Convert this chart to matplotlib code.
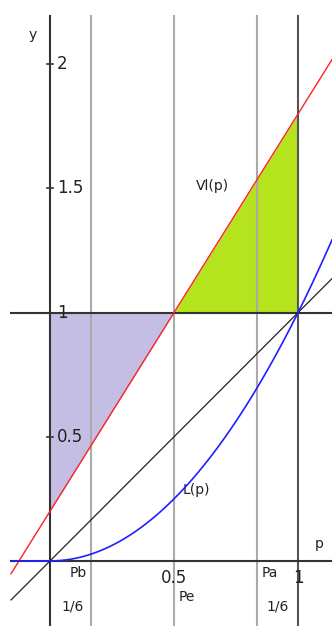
import numpy as np
import matplotlib.pyplot as plt

# Model curves on p
p_left, p_right = -0.157, 1.137
vl_intercept, vl_slope = 0.2, 1.6      # Vl(p) = 0.2 + 1.6 p
l_power = 2                            # L(p) = p^2 for p >= 0, 0 below
p_marks = [1/6, 0.5, 5/6]              # Pb, Pe, Pa
y_ticks = [0.5, 1, 1.5, 2]
y_tick_labels = ['0.5', '1', '1.5', '2']
x_ticks = [0.5, 1]
x_tick_labels = ['0.5', '1']

p = np.linspace(p_left, p_right, 300)
vl = vl_intercept + vl_slope * p
lp = np.clip(p, 0, None) ** l_power

fig = plt.figure(figsize=(3.32, 6.26), dpi=100)
ax = fig.add_axes([0, 0, 1, 1])
ax.set_xlim(-0.2016, 1.137)
ax.set_ylim(-0.262, 2.259)
ax.axis('off')

top = 2.193
ink = '#333333'

# shaded regions between Vl(p) and the line y = 1
pf = np.linspace(0, 0.5, 50)
ax.fill_between(pf, vl_intercept + vl_slope * pf, 1, color='#c5bee4', lw=0, zorder=1)
pf = np.linspace(0.5, 1, 50)
ax.fill_between(pf, 1, vl_intercept + vl_slope * pf, color='#b5e31e', lw=0, zorder=1)

# guide lines at Pb, Pe, Pa
for m in p_marks:
    ax.plot([m, m], [-0.262, top], color='#aaaaaa', lw=1.5, zorder=2)

# axes and the unit lines
ax.plot([0, 0], [-0.262, top], color=ink, lw=1.5, zorder=3)
ax.plot([1, 1], [-0.262, top], color='#555555', lw=1.5, zorder=3)
ax.plot([p_left, p_right], [0, 0], color=ink, lw=1.5, zorder=3)
ax.plot([p_left, p_right], [1, 1], color=ink, lw=1.5, zorder=3)

# curves
mask = vl <= top
ax.plot(p[mask], vl[mask], color='#ff2020', lw=1.0, zorder=4)
ax.plot(p, p, color='#222222', lw=0.9, zorder=4)
ax.plot(p, lp, color='#2020ff', lw=1.2, zorder=4)

# y ticks
for t, lab in zip(y_ticks, y_tick_labels):
    ax.plot([-0.012, 0.012], [t, t], color=ink, lw=1.2, zorder=5)
    ax.text(0.028, t, lab, fontsize=12, color='#222222', ha='left', va='center')
for t, lab in zip(x_ticks, x_tick_labels):
    ax.text(t, -0.07, lab, fontsize=12, color='#222222', ha='center', va='center')

small = dict(fontsize=10, color='#222222', va='center')
ax.text(-0.068, 2.118, 'y', ha='center', **small)
ax.text(1.086, 0.068, 'p', ha='center', **small)
ax.text(0.113, -0.05, 'Pb', ha='center', **small)
ax.text(0.093, -0.185, '1/6', ha='center', **small)
ax.text(0.553, -0.145, 'Pe', ha='center', **small)
ax.text(0.887, -0.05, 'Pa', ha='center', **small)
ax.text(0.919, -0.185, '1/6', ha='center', **small)
ax.text(0.657, 1.51, 'Vl(p)', ha='center', **small)
ax.text(0.589, 0.286, 'L(p)', ha='center', **small)

fig.savefig('out.png', dpi=100)
